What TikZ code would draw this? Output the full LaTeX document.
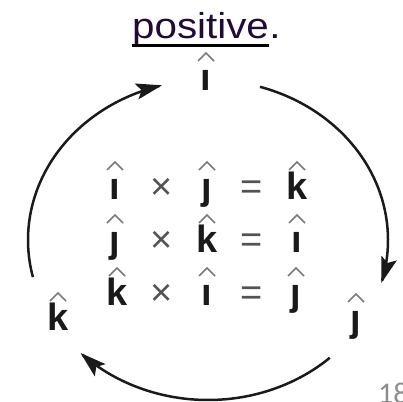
\documentclass[tikz,border=0pt]{standalone}
\usepackage{fontspec}
\setmainfont{Liberation Sans}
\newfontfamily\posfont[FakeStretch=1.12]{Liberation Sans}
\newfontfamily\numfont{Carlito}
\usetikzlibrary{arrows.meta}
\definecolor{ink}{HTML}{1A1A1A}
\definecolor{hatgray}{HTML}{7A7A7A}
\definecolor{postxt}{HTML}{220A38}
\definecolor{pagenum}{HTML}{8C8C8C}
\newcommand\puthat[1]{\draw[hatline] ([xshift=-8pt,yshift=29pt]#1.base) -- ([yshift=37pt]#1.base) -- ([xshift=8pt,yshift=29pt]#1.base);}
\begin{document}
\begin{tikzpicture}[x=1pt,y=-1pt,
  vec/.style={font=\fontsize{38}{40}\selectfont\bfseries, inner sep=0pt, anchor=base, text=ink},
  op/.style={font=\fontsize{38}{40}\selectfont, inner sep=0pt, anchor=base, text=ink!75},
  hatline/.style={draw=hatgray, line width=1.6pt, line join=miter},
  cyc/.style={draw=ink, line width=2.5pt, -{Stealth[length=26pt,width=16pt,inset=5pt]}},
  postext/.style={font=\posfont\fontsize{36}{40}\selectfont, text=postxt, anchor=base west, inner sep=0pt},
]
\useasboundingbox (0,0) rectangle (403,401);
\clip (0,0) rectangle (403,401);

% title word
\node[postext] (pos) at (132,39) {positive};
\node[postext] (dot) at (pos.base east) {.};
\draw[line width=2.4pt, draw=black] ([yshift=-6.5pt]pos.base west) -- ([yshift=-6.5pt]pos.base east);

% cycle labels
\node[vec] (ti) at (206,90) {ı};
\node[vec] (lk) at (58,330) {k};
\node[vec] (rj) at (356,331) {ȷ};

% equations
\node[vec] (a1) at (115,199) {ı};
\node[op]  (x1) at (162,199) {×};
\node[vec] (b1) at (207,199) {ȷ};
\node[op]  (e1) at (252,199) {=};
\node[vec] (c1) at (297,199) {k};

\node[vec] (a2) at (115,252) {ȷ};
\node[op]  (x2) at (162,252) {×};
\node[vec] (b2) at (207,252) {k};
\node[op]  (e2) at (252,252) {=};
\node[vec] (c2) at (297,252) {ı};

\node[vec] (a3) at (117,305) {k};
\node[op]  (x3) at (162,305) {×};
\node[vec] (b3) at (207,305) {ı};
\node[op]  (e3) at (252,305) {=};
\node[vec] (c3) at (296,305) {ȷ};

\foreach \n in {ti,lk,rj,a1,b1,c1,a2,b2,c2,a3,b3,c3}{\puthat{\n}}

% cyclic arrows
\draw[cyc] plot[domain=166.6:255.2, samples=80, smooth] ({208+180*cos(\x)},{240+160*sin(\x)});
\draw[cyc] plot[domain=-73.2:15.6, samples=80, smooth] ({208+180*cos(\x)},{240+160*sin(\x)});
\draw[cyc] plot[domain=47.4:135.1, samples=80, smooth] ({208+180*cos(\x)},{240+160*sin(\x)});

% page number
\node[font=\numfont\fontsize{30}{32}\selectfont, text=pagenum, anchor=base west, inner sep=0pt] (pg) at (378,403) {18};
\end{tikzpicture}
\end{document}
